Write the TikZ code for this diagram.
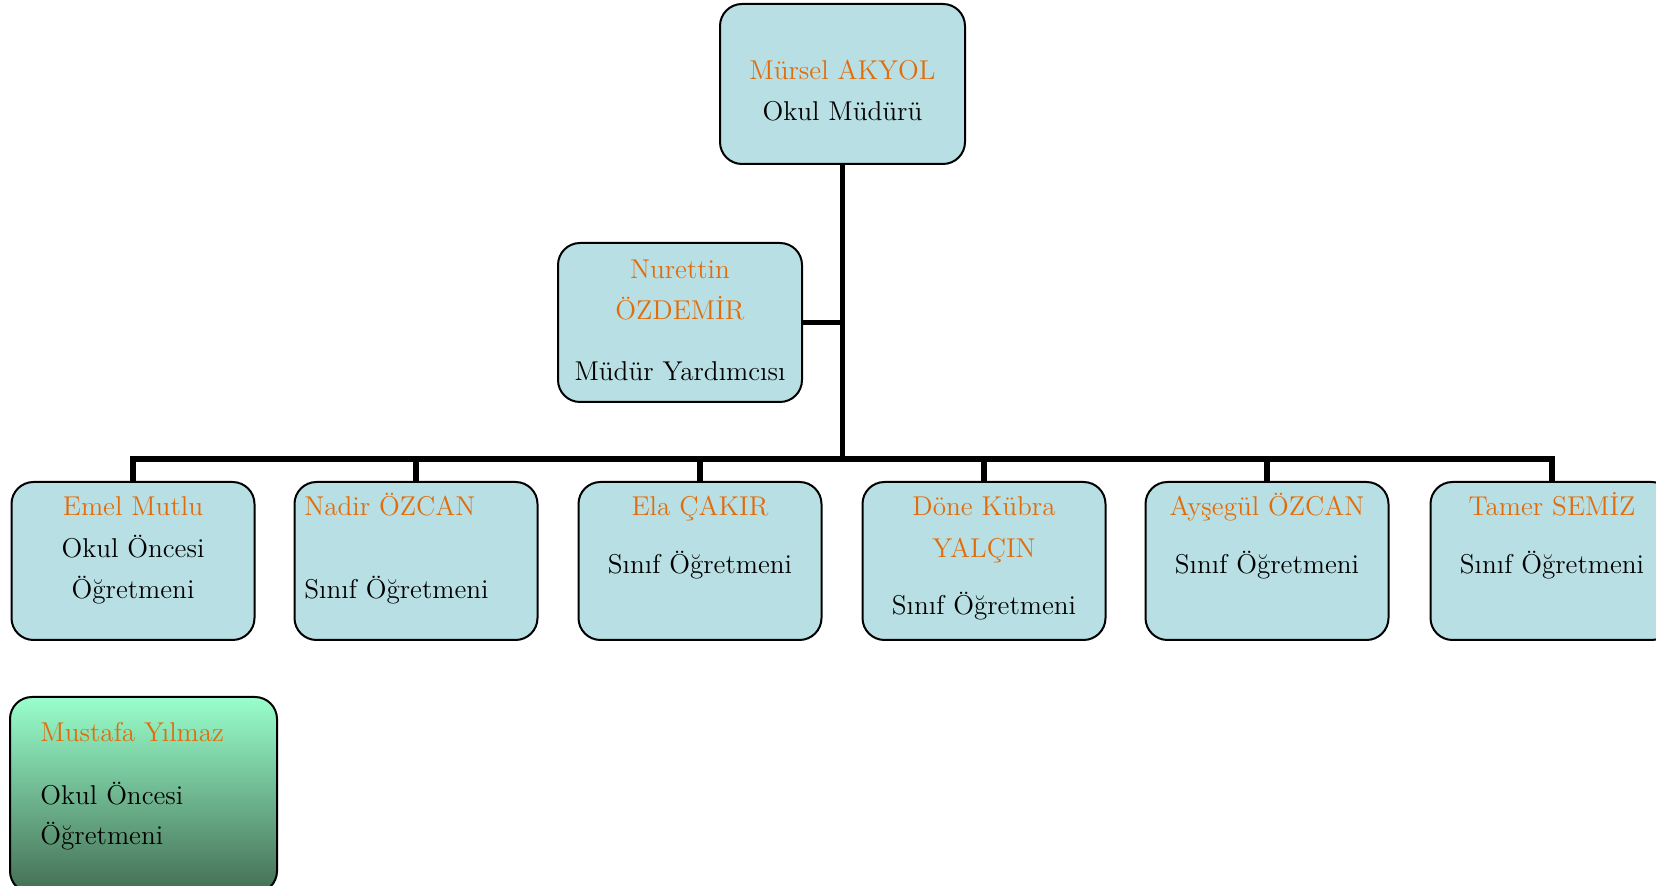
\documentclass[tikz,border=0pt]{standalone}
\definecolor{boxfill}{RGB}{184,223,227}
\definecolor{nameorange}{RGB}{227,108,10}
\definecolor{mintop}{RGB}{153,255,204}
\definecolor{greenbot}{RGB}{68,110,84}
\begin{document}
\begin{tikzpicture}[x=0.5pt,y=-0.5pt,
  box/.style={draw=black,line width=1pt,rounded corners=11pt,fill=boxfill,
    minimum width=121.5pt,minimum height=79pt,inner sep=0pt},
  nm/.style={anchor=base,inner sep=0pt,text=nameorange,font=\fontsize{13.6}{16}\selectfont},
  rl/.style={anchor=base,inner sep=0pt,text=black,font=\fontsize{13.6}{16}\selectfont},
  conn/.style={line width=2.8pt,line join=miter,line cap=butt}]
\useasboundingbox (0,0) rectangle (1656,886);
\clip (0,0) rectangle (1656,886);

% boxes
\node[box,minimum width=122.5pt,minimum height=80pt] (top) at (842.5,84) {};
\node[box,minimum width=122pt,minimum height=79.5pt] (nur) at (680,322.5) {};
\node[box] (l1) at (133,561) {};
\node[box] (l2) at (416,561) {};
\node[box] (l3) at (700,561) {};
\node[box] (l4) at (984,561) {};
\node[box] (l5) at (1267,561) {};
\node[box] (l6) at (1552,561) {};
\node[box,top color=mintop,bottom color=greenbot,minimum width=133.5pt,minimum height=98pt] (grn) at (143.5,795) {};

% connectors
\coordinate (bus) at (0,459);
\draw[conn] (l1.north) -- (l1.north |- bus) -- (l6.north |- bus) -- (l6.north);
\draw[conn] (top.south) -- (top.south |- bus);
\foreach \n in {l2,l3,l4,l5} \draw[conn] (\n.north) -- (\n.north |- bus);
\draw[conn] (nur.east) -- (nur.east -| top.south);

% texts
\node[nm] (t0a) at (842.5,80) {Mürsel AKYOL};
\node[rl] (t0b) at (842.5,121) {Okul Müdürü};

\node[nm] (tna) at (680,279) {Nurettin};
\node[nm] (tnb) at (680,320) {ÖZDEMİR};
\node[rl] (tnc) at (680,381) {Müdür Yardımcısı};

\node[nm] (t1a) at (133,516) {Emel Mutlu};
\node[rl] (t1b) at (133,558) {Okul Öncesi};
\node[rl] (t1c) at (133,599) {Öğretmeni};

\node[nm,anchor=base west] (t2a) at (304,516) {Nadir ÖZCAN};
\node[rl,anchor=base west] (t2b) at (304,599) {Sınıf Öğretmeni};

\node[nm] (t3a) at (700,516) {Ela ÇAKIR};
\node[rl] (t3b) at (700,574) {Sınıf Öğretmeni};

\node[nm] (t4a) at (984,516) {Döne Kübra};
\node[nm] (t4b) at (984,558) {YALÇIN};
\node[rl] (t4c) at (984,615) {Sınıf Öğretmeni};

\node[nm] (t5a) at (1267,516) {Ayşegül ÖZCAN};
\node[rl] (t5b) at (1267,574) {Sınıf Öğretmeni};

\node[nm] (t6a) at (1552,516) {Tamer SEMİZ};
\node[rl] (t6b) at (1552,574) {Sınıf Öğretmeni};

\node[nm,anchor=base west] (tga) at (40,742) {Mustafa Yılmaz};
\node[rl,anchor=base west] (tgb) at (40,805) {Okul Öncesi};
\node[rl,anchor=base west] (tgc) at (40,845) {Öğretmeni};
\end{tikzpicture}
\end{document}
